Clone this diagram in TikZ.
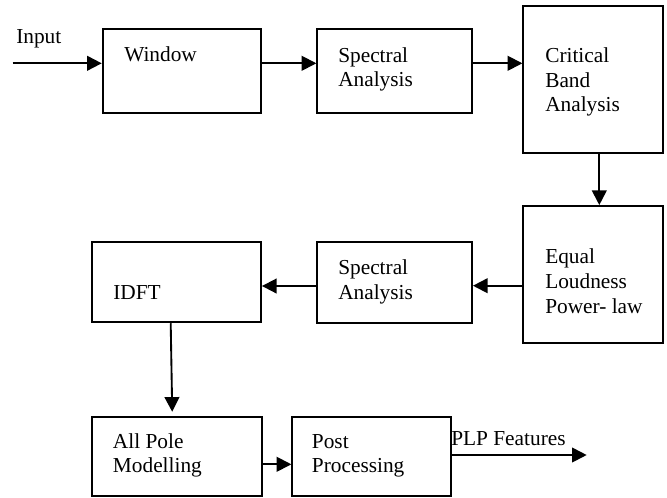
\documentclass[tikz,border=0pt]{standalone}
\usepackage{fontspec}
\setmainfont{Liberation Serif}
\usetikzlibrary{arrows.meta}
\begin{document}
\begin{tikzpicture}[x=0.75pt,y=-0.75pt,
  box/.style={draw,line width=1.4pt,rectangle,inner sep=0pt},
  lbl/.style={anchor=base west,inner sep=0pt,font=\fontsize{16pt}{18.4pt}\selectfont,align=left},
  arr/.style={line width=1.4pt,-{Triangle[length=11pt,width=11pt]}}]
\useasboundingbox (0,0) rectangle (667,497);

% processing blocks
\node[box,minimum width=158.3*0.75pt,minimum height=83.4*0.75pt] (win) at (181.85,71) {};
\node[box,minimum width=154.7*0.75pt,minimum height=83.4*0.75pt] (spa) at (394.65,71) {};
\node[box,minimum width=140*0.75pt,minimum height=147.3*0.75pt] (cba) at (593.3,79.65) {};
\node[box,minimum width=140*0.75pt,minimum height=137.3*0.75pt] (eql) at (593.3,274.65) {};
\node[box,minimum width=154.7*0.75pt,minimum height=80.4*0.75pt] (spb) at (394.65,282.5) {};
\node[box,minimum width=169*0.75pt,minimum height=80*0.75pt] (idft) at (176.5,282.3) {};
\node[box,minimum width=170*0.75pt,minimum height=79.3*0.75pt] (apm) at (176.7,456.35) {};
\node[box,minimum width=158.7*0.75pt,minimum height=79.3*0.75pt] (pp) at (371.65,456.35) {};

% block labels
\node[lbl] (twin) at (124,61) {Window};
\node[lbl] (tspa1) at (338,62) {Spectral};
\node[lbl] (tspa2) at (338,86) {Analysis};
\node[lbl] (tcba1) at (545,62.7) {Critical};
\node[lbl] (tcba2) at (545,87) {Band};
\node[lbl] (tcba3) at (545,111.7) {Analysis};
\node[lbl] (teql1) at (545,263) {Equal};
\node[lbl] (teql2) at (545,288) {Loudness};
\node[lbl] (teql3) at (545,313) {Power- law};
\node[lbl] (tspb1) at (338,274) {Spectral};
\node[lbl] (tspb2) at (338,299) {Analysis};
\node[lbl] (tidft) at (113,299) {IDFT};
\node[lbl] (tapm1) at (112.7,448) {All Pole};
\node[lbl] (tapm2) at (112.7,472) {Modelling};
\node[lbl] (tpp1) at (311.7,448) {Post};
\node[lbl] (tpp2) at (311.7,472) {Processing};
\node[lbl] (tin) at (16,43) {Input};
\node[lbl] (tout) at (451,445) {PLP Features};

% signal flow
\coordinate (src) at (12.7,63.3);
\coordinate (dst) at (586.7,455);
\draw[arr] (src) -- (win.west |- src);
\draw[arr] (win.east |- src) -- (spa.west |- src);
\draw[arr] (spa.east |- src) -- (cba.west |- src);
\draw[arr] (cba.south -| 599.3,0) -- (eql.north -| 599.3,0);
\draw[arr] (eql.west |- 0,285.7) -- (spb.east |- 0,285.7);
\draw[arr] (spb.west |- 0,286) -- (idft.east |- 0,286);
\draw[arr,shorten >=3pt] (idft.south -| 170.7,0) -- (apm.north -| 172.3,0);
\draw[arr] (apm.east |- 0,464.3) -- (pp.west |- 0,464.3);
\draw[arr] (pp.east |- dst) -- (dst);
\end{tikzpicture}
\end{document}
